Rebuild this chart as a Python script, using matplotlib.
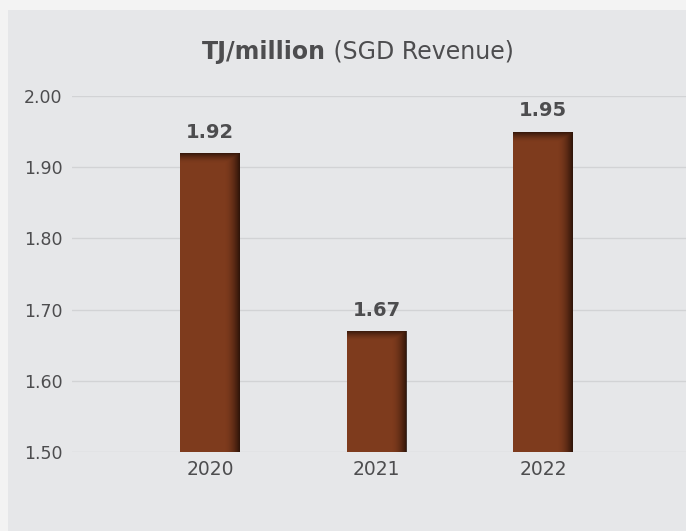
import matplotlib.pyplot as plt
import matplotlib.patches as mpatches
import numpy as np

years = ["2020", "2021", "2022"]
values = [1.92, 1.67, 1.95]
y_ticks = [1.50, 1.60, 1.70, 1.80, 1.90, 2.00]

bar_color = "#7e3b1d"
text_color = "#4d4d4f"

fig = plt.figure(figsize=(6.86, 5.31), dpi=100)
fig.patch.set_facecolor("#f3f3f3")
# grey panel behind the chart
fig.patches.append(mpatches.Rectangle((8 / 686, 0), 1, 1 - 10 / 531,
                                      transform=fig.transFigure,
                                      facecolor="#e6e7e9", edgecolor="none", zorder=-10))

ax = fig.add_axes([72 / 686, (531 - 452) / 531, (686 - 72) / 686, (452 - 96) / 531])
ax.set_zorder(5)
ax.set_facecolor("none")
x = np.arange(len(years))
ax.set_yticks(y_ticks)
ax.set_yticklabels([f"{v:.2f}" for v in y_ticks])
ax.set_xticks(x)
ax.set_xticklabels(years)
ax.tick_params(axis="y", length=0, labelsize=12.5, colors=text_color, pad=7)
ax.tick_params(axis="x", length=0, labelsize=13.5, colors=text_color, pad=6)
for s in ax.spines.values():
    s.set_visible(False)
ax.grid(axis="y", color="#d2d3d5", linewidth=1)
ax.set_axisbelow(True)

width = 0.36
bars = ax.bar(x, values, width=width, bottom=0, color=bar_color, zorder=2)

# shadow on right edge and top of each bar
for b in bars:
    x0, x1 = b.get_x(), b.get_x() + b.get_width()
    top = b.get_height()
    n = 200
    u = np.linspace(0, 1, n)[None, :]
    yy = np.linspace(1.50, top, n)[:, None]
    right = np.clip((u - 0.74) / 0.26, 0, 1) ** 1.8
    upper = np.clip(1 - (top - yy) / 0.014, 0, 1) ** 1.5
    dark = np.clip(np.maximum(right * 0.85, upper * 0.8), 0, 1)
    img = np.zeros((n, n, 4))
    img[..., 0] = 0.12
    img[..., 1] = 0.05
    img[..., 2] = 0.02
    img[..., 3] = dark
    im = ax.imshow(img, extent=[x0, x1, 1.50, top], origin="lower",
                   aspect="auto", zorder=3, interpolation="bilinear")
    im.set_clip_path(b)
    ax.annotate(f"{top:.2f}", (b.get_x() + b.get_width() / 2, top),
                xytext=(0, 8), textcoords="offset points", ha="center",
                va="bottom", fontsize=14, fontweight="bold", color=text_color)

ax.set_xlim(-0.83, 2.86)
ax.set_ylim(1.50, 2.00)

fig.text(326 / 686, 1 - 52 / 531, "TJ/million", ha="right", va="center",
         fontsize=17, fontweight="bold", color=text_color)
fig.text(326 / 686, 1 - 52 / 531, " (SGD Revenue)", ha="left", va="center",
         fontsize=17, color=text_color)

fig.savefig("out.png", dpi=100, facecolor=fig.get_facecolor())
